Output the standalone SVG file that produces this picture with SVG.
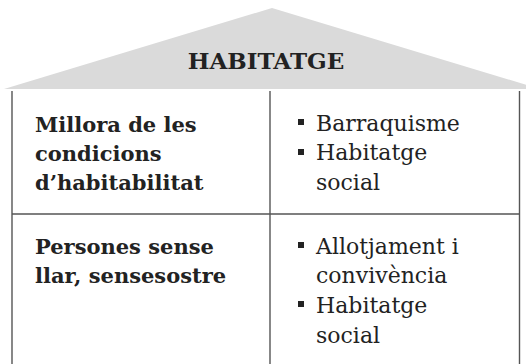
<svg xmlns="http://www.w3.org/2000/svg" width="526" height="364" viewBox="0 0 526 364">
<style>
.line{stroke:#555;stroke-width:1.4;fill:none}
.title{font-family:"DejaVu Serif",serif;font-weight:bold;font-size:23px;fill:#222}
.head{font-family:"DejaVu Serif",serif;font-weight:bold;font-size:21px;fill:#222}
.item{font-family:"DejaVu Serif",serif;font-size:22px;fill:#222}
.bullet{fill:#222}
</style>
<rect width="526" height="364" fill="#fff"/>
<g id="roof">
<polygon points="4,89 272,8 540,89" fill="#dadada"/>
<text class="title" x="266" y="69" text-anchor="middle">HABITATGE</text>
</g>
<g id="connectors">
<line class="line" x1="12" y1="91" x2="12" y2="364"/>
<line class="line" x1="270" y1="91" x2="270" y2="364"/>
<line class="line" x1="519.5" y1="91" x2="519.5" y2="364"/>
<line class="line" x1="12" y1="214" x2="519.5" y2="214"/>
</g>
<g id="row1-head">
<text class="head" x="35" y="132">Millora de les</text>
<text class="head" x="35" y="161">condicions</text>
<text class="head" x="35" y="190">d’habitabilitat</text>
</g>
<g id="row1-items">
<rect class="bullet" x="298" y="119" width="6" height="6"/>
<text class="item" x="316" y="131">Barraquisme</text>
<rect class="bullet" x="298" y="149" width="6" height="6"/>
<text class="item" x="316" y="160">Habitatge</text>
<text class="item" x="316" y="190">social</text>
</g>
<g id="row2-head">
<text class="head" x="35" y="254">Persones sense</text>
<text class="head" x="35" y="283">llar, sensesostre</text>
</g>
<g id="row2-items">
<rect class="bullet" x="298" y="242" width="6" height="6"/>
<text class="item" x="316" y="254">Allotjament i</text>
<text class="item" x="316" y="283">convivència</text>
<rect class="bullet" x="298" y="301" width="6" height="6"/>
<text class="item" x="316" y="313">Habitatge</text>
<text class="item" x="316" y="343">social</text>
</g>
</svg>
